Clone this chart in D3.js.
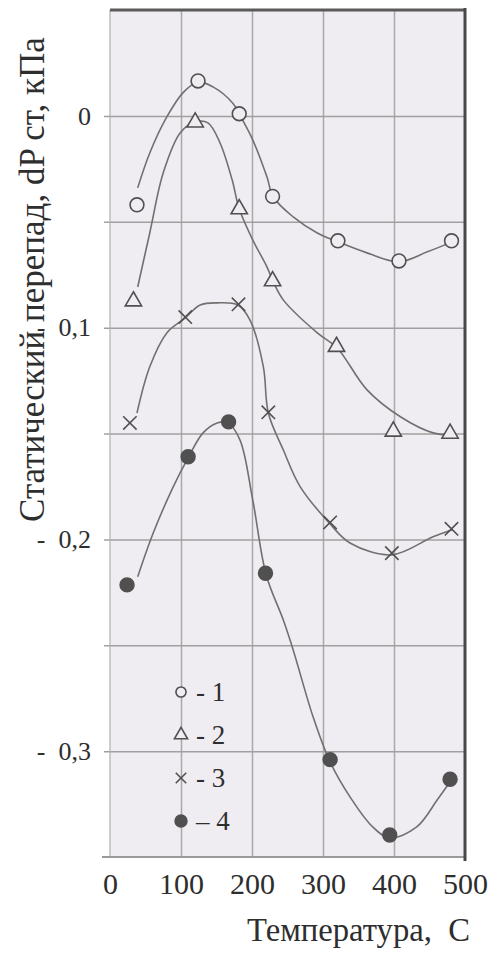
<!DOCTYPE html>
<html>
<head>
<meta charset="utf-8">
<script src="https://cdn.jsdelivr.net/npm/d3@7"></script>
<style>
  body { margin: 0; background: #fff; }
  svg text { font-family: "Liberation Serif", "Times New Roman", Times, serif; }
</style>
</head>
<body>
<div id="holder"></div>
<script>
const w = 488;
const h = 957;
const plotLeft = 110, plotRight = 465, plotTop = 10, plotBottom = 857;

// DATA
const seriesNames = ["1", "2", "3", "4"];

// measured points
const temps1 = [38, 124, 182, 229, 321, 407, 481];
const dp1 = [-0.042, 0.0165, 0.001, -0.038, -0.059, -0.0685, -0.059];
const temps2 = [33, 120, 182, 229, 319, 399, 479];
const dp2 = [-0.0875, -0.003, -0.044, -0.078, -0.109, -0.149, -0.150];
const temps3 = [28, 106, 181, 223, 310, 397, 481];
const dp3 = [-0.145, -0.095, -0.089, -0.140, -0.192, -0.2065, -0.195];
const temps4 = [24, 110, 167, 219, 310, 394, 479];
const dp4 = [-0.2215, -0.161, -0.1445, -0.216, -0.304, -0.3396, -0.3133];

// hand-drawn fitted curves
const fitT1 = [39, 56, 80, 103, 124, 145, 173, 182, 201, 221, 230, 258, 292, 321, 362, 407, 447, 482];
const fitDp1 = [-0.034, -0.0175, -0.0005, 0.011, 0.016, 0.0137, 0.006, 0.0009, -0.0113, -0.0288, -0.0383, -0.0477, -0.0553, -0.0595, -0.0647, -0.0689, -0.0642, -0.0595];
const fitT2 = [39, 56, 75, 99, 120, 138, 155, 172, 182, 201, 221, 230, 244, 292, 320, 362, 409, 455, 479];
const fitDp2 = [-0.0808, -0.0553, -0.0269, -0.008, -0.0028, -0.0033, -0.0128, -0.0302, -0.0439, -0.0586, -0.0713, -0.0784, -0.0869, -0.1025, -0.1096, -0.1294, -0.1421, -0.1497, -0.1506];
const fitT3 = [38, 56, 80, 106, 127, 151, 180, 197, 216, 223, 244, 268, 310, 338, 397, 455, 482];
const fitDp3 = [-0.1403, -0.1185, -0.1025, -0.0954, -0.0893, -0.0883, -0.0893, -0.0963, -0.1185, -0.1403, -0.1577, -0.1752, -0.1927, -0.2017, -0.2073, -0.1988, -0.1955];
const fitT4 = [39, 61, 89, 110, 131, 151, 166, 183, 201, 220, 244, 258, 286, 310, 338, 370, 394, 432, 461, 479];
const fitDp4 = [-0.2177, -0.1969, -0.1752, -0.1615, -0.1497, -0.145, -0.145, -0.153, -0.1813, -0.2168, -0.238, -0.2522, -0.2838, -0.3051, -0.3216, -0.3358, -0.341, -0.3358, -0.323, -0.3145];

const xTicks = [0, 100, 200, 300, 400, 500];
const yGridTicks = [0.05, 0, -0.05, -0.1, -0.15, -0.2, -0.25, -0.3, -0.35];
const yLabelTicks = [0, -0.1, -0.2, -0.3];
const legendText = ["- 1", "- 2", "- 3", "– 4"];

const bg = "#efedf1";
const lineColor = "#707070";
const markColor = "#505050";
const textColor = "#2e2e2e";

// CREATE SVG
const svg = d3.select("#holder")
    .append("svg")
    .attr("width", w)
    .attr("height", h)

// SCALES
const xScale = d3.scaleLinear().domain([0, 500]).range([plotLeft, plotRight])
const yScale = d3.scaleLinear().domain([-0.35, 0.05]).range([plotBottom, plotTop])

// PLOT BACKGROUND
svg.append("rect")
    .attr("x", plotLeft)
    .attr("y", plotTop)
    .attr("width", plotRight - plotLeft)
    .attr("height", plotBottom - plotTop)
    .attr("fill", bg)

// GRID (vertical)
svg.append("g")
    .attr("transform", "translate(0," + plotBottom + ")")
    .call(d3.axisBottom(xScale).tickValues(xTicks.slice(1, -1)).tickSize(-(plotBottom - plotTop)).tickFormat(""))
    .call(g => g.select(".domain").remove())
    .call(g => g.selectAll(".tick line").attr("stroke", "#a9a9a9").attr("stroke-width", 1.5))

// GRID (horizontal) with small stubs on the left
svg.append("g")
    .attr("transform", "translate(" + plotLeft + ",0)")
    .call(d3.axisLeft(yScale).tickValues(yGridTicks.slice(1, -1)).tickSize(-(plotRight - plotLeft)).tickFormat(""))
    .call(g => g.select(".domain").remove())
    .call(g => g.selectAll(".tick line").attr("x1", -6).attr("stroke", "#a0a0a0").attr("stroke-width", 1.5))

// FRAME
svg.append("line").attr("x1", plotLeft).attr("x2", plotLeft).attr("y1", plotTop).attr("y2", plotBottom)
    .attr("stroke", "#b0b0b0").attr("stroke-width", 1.2)
svg.append("line").attr("x1", plotLeft - 8).attr("x2", plotRight).attr("y1", plotBottom).attr("y2", plotBottom)
    .attr("stroke", "#9a9a9a").attr("stroke-width", 2)
svg.append("line").attr("x1", plotLeft).attr("x2", plotRight).attr("y1", plotTop).attr("y2", plotTop)
    .attr("stroke", "#5a5a5a").attr("stroke-width", 3)
svg.append("line").attr("x1", plotRight).attr("x2", plotRight).attr("y1", plotTop - 2).attr("y2", plotBottom + 4)
    .attr("stroke", "#484848").attr("stroke-width", 3)

// X AXIS LABELS
svg.append("g")
    .attr("transform", "translate(0," + plotBottom + ")")
    .call(d3.axisBottom(xScale).tickValues(xTicks).tickSize(0).tickPadding(16).tickFormat(d3.format("d")))
    .call(g => g.select(".domain").remove())
    .call(g => g.selectAll("text").attr("font-size", 30).attr("fill", textColor))

// Y AXIS LABELS
svg.append("g")
    .attr("transform", "translate(" + plotLeft + ",0)")
    .call(d3.axisLeft(yScale).tickValues(yLabelTicks).tickSize(0).tickPadding(19)
        .tickFormat(d => d === 0 ? "0" : "-\u2002" + d3.format(".1f")(-d).replace(".", ",")))
    .call(g => g.select(".domain").remove())
    .call(g => g.selectAll("text").attr("font-size", 26).attr("fill", textColor))

// AXIS TITLES
svg.append("text")
    .attr("x", 247)
    .attr("y", 941)
    .attr("font-size", 33)
    .attr("fill", textColor)
    .attr("textLength", 223)
    .attr("lengthAdjust", "spacingAndGlyphs")
    .text("Температура,\u2002С")

svg.append("text")
    .attr("transform", "translate(44,522) rotate(-90)")
    .attr("font-size", 35)
    .attr("fill", textColor)
    .text("Статический перепад, dP ст, кПа")

// MARKER SHAPES
const crossX = {
    draw(ctx, size) {
        const r = Math.sqrt(size) / 2;
        ctx.moveTo(-r, -r); ctx.lineTo(r, r);
        ctx.moveTo(r, -r); ctx.lineTo(-r, r);
    }
}

const series = [
    { name: seriesNames[0], t: temps1, dp: dp1, ft: fitT1, fdp: fitDp1, type: d3.symbolCircle, size: 150, fill: bg },
    { name: seriesNames[1], t: temps2, dp: dp2, ft: fitT2, fdp: fitDp2, type: d3.symbolTriangle, size: 115, fill: bg },
    { name: seriesNames[2], t: temps3, dp: dp3, ft: fitT3, fdp: fitDp3, type: crossX, size: 180, fill: "none" },
    { name: seriesNames[3], t: temps4, dp: dp4, ft: fitT4, fdp: fitDp4, type: d3.symbolCircle, size: 150, fill: markColor }
]

const line = d3.line()
    .x(d => xScale(d[0]))
    .y(d => yScale(d[1]))
    .curve(d3.curveCatmullRom.alpha(0.5))

// CURVES
series.forEach(s => {
    const pts = s.ft.map((t, i) => [t, s.fdp[i]])
    svg.append("path")
        .datum(pts)
        .attr("d", line)
        .attr("fill", "none")
        .attr("stroke", lineColor)
        .attr("stroke-width", 1.6)
})

// POINTS
series.forEach(s => {
    const pts = s.t.map((t, i) => [t, s.dp[i]])
    svg.append("g").selectAll("path")
        .data(pts)
        .enter()
        .append("path")
        .attr("transform", d => "translate(" + xScale(d[0]) + "," + yScale(d[1]) + ")")
        .attr("d", d3.symbol().type(s.type).size(s.size))
        .attr("fill", s.fill)
        .attr("stroke", markColor)
        .attr("stroke-width", 1.6)
})

// LEGEND
const legendY = d3.scalePoint().domain(seriesNames).range([692, 821])
const legendSizes = [80, 75, 110, 110]

series.forEach((s, i) => {
    svg.append("path")
        .attr("transform", "translate(181," + legendY(s.name) + ")")
        .attr("d", d3.symbol().type(s.type).size(legendSizes[i]))
        .attr("fill", s.fill)
        .attr("stroke", markColor)
        .attr("stroke-width", 1.6)
    svg.append("text")
        .attr("x", 196)
        .attr("y", legendY(s.name))
        .attr("dy", "0.35em")
        .attr("font-size", 27)
        .attr("fill", textColor)
        .text(legendText[i])
})
</script>
</body>
</html>
